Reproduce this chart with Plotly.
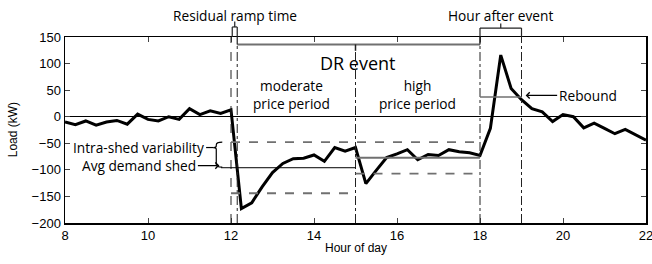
import plotly.graph_objects as go

# ---- data ----
hours = [8.0, 8.25, 8.5, 8.75, 9.0, 9.25, 9.5, 9.75, 10.0, 10.25, 10.5, 10.75,
         11.0, 11.25, 11.5, 11.75, 12.0, 12.25, 12.5, 12.75, 13.0, 13.25, 13.5, 13.75,
         14.0, 14.25, 14.5, 14.75, 15.0, 15.25, 15.5, 15.75, 16.0, 16.25, 16.5, 16.75,
         17.0, 17.25, 17.5, 17.75, 18.0, 18.25, 18.5, 18.75, 19.0, 19.25, 19.5, 19.75,
         20.0, 20.25, 20.5, 20.75, 21.0, 21.25, 21.5, 21.75, 22.0]
load_kw = [-10, -15, -8, -16, -10, -7, -14, 5, -5, -8, 0, -5,
           15, 4, 11, 6, 13, -173, -162, -132, -105, -88, -79, -78,
           -72, -84, -58, -65, -58, -126, -101, -77, -70, -62, -81, -71,
           -73, -62, -66, -68, -73, -22, 116, 53, 32, 15, 9, -9,
           4, 0, -21, -12, -22, -32, -24, -34, -44]

x_ticks = [8, 10, 12, 14, 16, 18, 20, 22]
y_ticks = [150, 100, 50, 0, -50, -100, -150, -200]

# event timing / levels (annotation geometry)
event_start = 12.0
ramp_end = 12.15
price_switch = 15.0
event_end = 18.0
hour_after = 19.0
dr_level = 136
shed_upper = -48
mod_avg, mod_lower = -96, -144
high_avg, high_lower = -77, -107
rebound_avg = 37

Y0, Y1 = -200, 150
def paper(v):
    return (v - Y0) / (Y1 - Y0)

GRAY = "#707070"
ANN_FONT = "Open Sans"
AF = 13.7

fig = go.Figure()
fig.add_trace(go.Scatter(x=hours, y=load_kw, mode="lines",
                         line=dict(color="black", width=3), showlegend=False,
                         hoverinfo="skip"))

shapes = []
def vline(x, y0, y1, dash, color="#222", width=1, yref="y"):
    shapes.append(dict(type="line", xref="x", yref=yref, x0=x, x1=x, y0=y0, y1=y1,
                       line=dict(color=color, width=width, dash=dash)))
def hline(x0, x1, y, dash="solid", color=GRAY, width=1.5, yref="y"):
    shapes.append(dict(type="line", xref="x", yref=yref, x0=x0, x1=x1, y0=y, y1=y,
                       line=dict(color=color, width=width, dash=dash)))

# vertical markers
vline(event_start, Y0, Y1, "dash")
vline(ramp_end, Y0, dr_level, "dashdot")
vline(price_switch, Y0, dr_level, "dashdot")
vline(event_end, Y0, Y1, "dashdot")
vline(hour_after, Y0, Y1, "dashdot")

# DR event bracket
hline(ramp_end, event_end, dr_level, color=GRAY, width=2)
vline(price_switch, dr_level, dr_level - 12, "solid", color="#222", width=1.5)
# connect up to hour-after bracket (above plot)
top_b = 1.048
vline(event_end, paper(dr_level), top_b, "solid", color="#222", width=1.2, yref="paper")
vline(hour_after, 1.0, top_b, "solid", color="#222", width=1.2, yref="paper")
hline(event_end, hour_after, top_b, color="#222", width=1.2, yref="paper")
vline((event_end + hour_after) / 2, top_b, top_b + 0.025, "solid", color="#222", width=1.2, yref="paper")

# residual ramp bracket
rb_top = 1.054
vline(12.03, 1.0, rb_top, "solid", color="#222", width=1.2, yref="paper")
vline(ramp_end, paper(dr_level), rb_top, "solid", color="#222", width=1.2, yref="paper")
hline(12.03, ramp_end, rb_top, color="#222", width=1.2, yref="paper")
vline(12.09, rb_top, rb_top + 0.03, "solid", color="#222", width=1.2, yref="paper")

# shed levels
hline(12.0, event_end, shed_upper, dash="dash", color=GRAY, width=1.8)
hline(11.76, price_switch, mod_avg, color="black", width=1)
hline(12.0, price_switch, mod_lower, dash="dash", color=GRAY, width=1.8)
hline(price_switch, event_end, high_avg, color=GRAY, width=2)
hline(price_switch, event_end, high_lower, dash="dash", color=GRAY, width=1.8)
# rebound avg
hline(event_end, hour_after, rebound_avg, color=GRAY, width=1.5)

# brace for intra-shed variability
shapes.append(dict(type="path", xref="x", yref="y",
                   path="M 11.79,-48 Q 11.645,-48 11.645,-53 L 11.645,-55 Q 11.645,-58 11.57,-58 "
                        "Q 11.645,-58 11.645,-61 L 11.645,-90 Q 11.645,-95 11.79,-95",
                   line=dict(color="black", width=1.2)))
shapes.append(dict(type="line", xref="x", yref="y", x0=11.40, x1=11.57, y0=-58, y1=-58,
                   line=dict(color="black", width=1.2)))

annotations = [
    dict(x=12.09, y=1.118, xref="x", yref="paper", text="Residual ramp time", showarrow=False,
         font=dict(family=ANN_FONT, size=AF, color="black"), xanchor="center", yanchor="middle"),
    dict(x=18.5, y=1.118, xref="x", yref="paper", text="Hour after event", showarrow=False,
         font=dict(family=ANN_FONT, size=AF, color="black"), xanchor="center", yanchor="middle"),
    dict(x=15.05, y=102, text="DR event", showarrow=False,
         font=dict(family=ANN_FONT, size=18, color="black"), xanchor="center", yanchor="middle"),
    dict(x=13.45, y=42, text="moderate<br>price period", showarrow=False,
         font=dict(family=ANN_FONT, size=AF, color="black"), xanchor="center", yanchor="middle"),
    dict(x=16.5, y=42, text="high<br>price period", showarrow=False,
         font=dict(family=ANN_FONT, size=AF, color="black"), xanchor="center", yanchor="middle"),
    dict(x=19.1, y=40, text="Rebound", showarrow=True, ax=62, ay=0,
         arrowhead=4, arrowsize=1, arrowwidth=1.2, arrowcolor="black",
         font=dict(family=ANN_FONT, size=AF, color="black")),
    dict(x=11.39, y=-58, text="Intra-shed variability", showarrow=False,
         font=dict(family=ANN_FONT, size=AF, color="black"), xanchor="right", yanchor="middle"),
    dict(x=11.72, y=-92, text="Avg demand shed", showarrow=True, ax=-80, ay=0,
         arrowhead=4, arrowsize=1, arrowwidth=1.2, arrowcolor="black",
         font=dict(family=ANN_FONT, size=AF, color="black")),
    # axis titles
    dict(x=0.5, y=-0.135, xref="paper", yref="paper", text="Hour of day", showarrow=False,
         font=dict(family="Liberation Sans", size=12, color="black"), xanchor="center", yanchor="middle"),
    dict(x=-0.089, y=0.5, xref="paper", yref="paper", text="Load (kW)", showarrow=False,
         textangle=-90, font=dict(family="Liberation Sans", size=12, color="black"),
         xanchor="center", yanchor="middle"),
]

fig.update_layout(
    width=652, height=264,
    margin=dict(l=65, r=6, t=37, b=41, autoexpand=False),
    paper_bgcolor="white", plot_bgcolor="white",
    shapes=shapes, annotations=annotations,
    font=dict(family="Liberation Sans", size=13, color="black"),
    hovermode=False,
)
fig.update_xaxes(range=[8, 22], tickvals=x_ticks, ticks="inside", ticklen=5,
                 showline=True, linecolor="black", linewidth=1.5, mirror="ticks",
                 showgrid=False, zeroline=False, automargin=False,
                 ticklabeloverflow="allow")
fig.update_yaxes(range=[Y0, Y1], tickvals=y_ticks, ticks="inside", ticklen=5,
                 showline=True, linecolor="black", linewidth=1.5, mirror="ticks",
                 showgrid=False, zeroline=True, zerolinecolor="black", zerolinewidth=1,
                 automargin=False)

fig.write_html("out.html", config={"displayModeBar": False, "staticPlot": True},
               post_script="document.body.style.margin='0';document.body.style.overflow='hidden';")
